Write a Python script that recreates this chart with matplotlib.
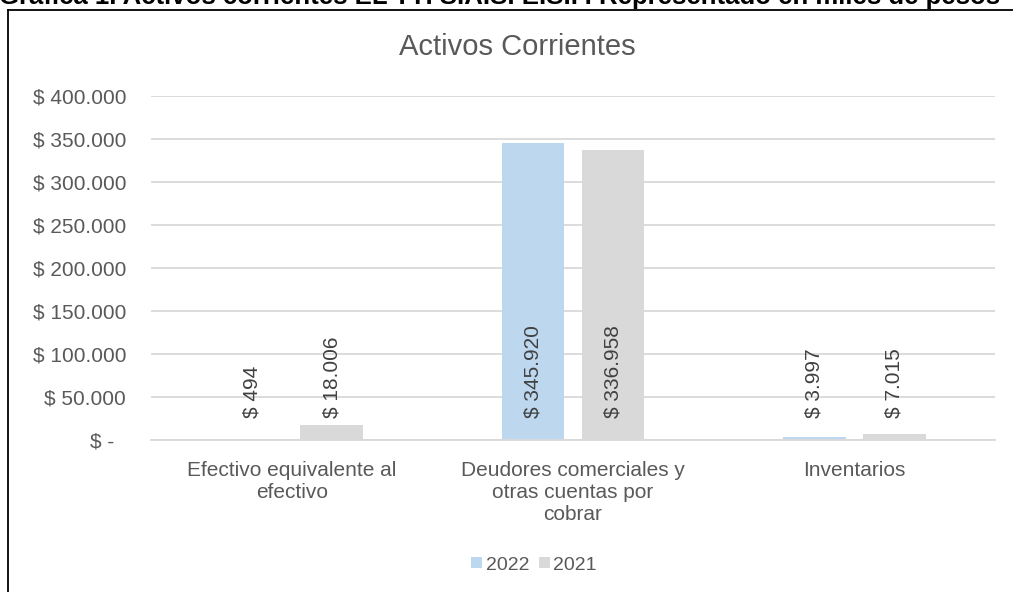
import matplotlib
matplotlib.use("Agg")
import matplotlib.pyplot as plt
from matplotlib.lines import Line2D
import numpy as np

plt.rcParams['font.family'] = ['Liberation Sans', 'DejaVu Sans']

categories = ["Efectivo equivalente al\nefectivo",
              "Deudores comerciales y\notras cuentas por\ncobrar",
              "Inventarios"]
values_2022 = [494, 345920, 3997]
values_2021 = [18006, 336958, 7015]
series_names = ["2022", "2021"]
yticks = [0, 50000, 100000, 150000, 200000, 250000, 300000, 350000, 400000]
ytick_labels = ["$ -  ", "$ 50.000", "$ 100.000", "$ 150.000", "$ 200.000",
                "$ 250.000", "$ 300.000", "$ 350.000", "$ 400.000"]
data_labels_2022 = ["$ 494", "$ 345.920", "$ 3.997"]
data_labels_2021 = ["$ 18.006", "$ 336.958", "$ 7.015"]
chart_title = "Activos Corrientes"
heading = "Gráfica 1. Activos corrientes EL TTI S.A.S. E.S.P. Representado en miles de pesos"

c2022 = "#BDD7EE"
c2021 = "#D9D9D9"
grid_c = "#D9D9D9"
txt_c = "#595959"

W, H = 1013, 592
fig = plt.figure(figsize=(W / 100, H / 100), dpi=100)
ax = fig.add_axes([151 / W, 1 - 440 / H, (995 - 151) / W, (440 - 96) / H])

x = np.arange(len(categories))
bw = 0.222
off = 0.142
b1 = ax.bar(x - off, values_2022, bw, color=c2022, label=series_names[0], zorder=2)
b2 = ax.bar(x + off, values_2021, bw, color=c2021, label=series_names[1], zorder=2)

for bars, labs in ((b1, data_labels_2022), (b2, data_labels_2021)):
    for rect, lab in zip(bars, labs):
        ax.annotate(lab, xy=(rect.get_x() + rect.get_width() / 2, 0),
                    xytext=(0, 16), textcoords="offset points",
                    rotation=90, ha="center", va="bottom",
                    fontsize=15, color="#404040", zorder=3)

ax.set_xlim(-0.5, 2.5)
ax.set_ylim(0, 400000)
ax.set_yticks(yticks)
ax.set_yticklabels(ytick_labels, fontsize=15, color=txt_c)
ax.set_xticks(x)
ax.set_xticklabels(categories, fontsize=15, color=txt_c, linespacing=1.2)
ax.tick_params(axis="y", length=0, pad=18)
ax.tick_params(axis="x", length=0, pad=15)
ax.grid(axis="y", color=grid_c, linewidth=1.3, zorder=0)
ax.set_axisbelow(True)
for s in ["top", "right", "left"]:
    ax.spines[s].set_visible(False)
ax.spines["bottom"].set_color(grid_c)
ax.spines["bottom"].set_linewidth(1.3)

fig.text(517 / W, 1 - 47 / H, chart_title, fontsize=21, color=txt_c,
         ha="center", va="center")

fig.text(-1 / W, 1 - 4 / H, heading, fontsize=18.5, fontweight="bold",
         color="black", ha="left", va="baseline")

# chart frame
fig.add_artist(Line2D([8 / W, 8 / W], [0, 1 - 10 / H], transform=fig.transFigure,
                      color="black", linewidth=1.3))
fig.add_artist(Line2D([8 / W, 1.0], [1 - 10 / H, 1 - 10 / H], transform=fig.transFigure,
                      color="black", linewidth=1.3))

leg = fig.legend(handles=[b1, b2], labels=series_names, loc="center",
                 bbox_to_anchor=(534 / W, 1 - 565 / H), ncol=2, frameon=False,
                 fontsize=14, handlelength=0.55, handleheight=0.55,
                 handletextpad=0.2, columnspacing=0.5)
for t in leg.get_texts():
    t.set_color(txt_c)

fig.savefig("out.png", dpi=100)
